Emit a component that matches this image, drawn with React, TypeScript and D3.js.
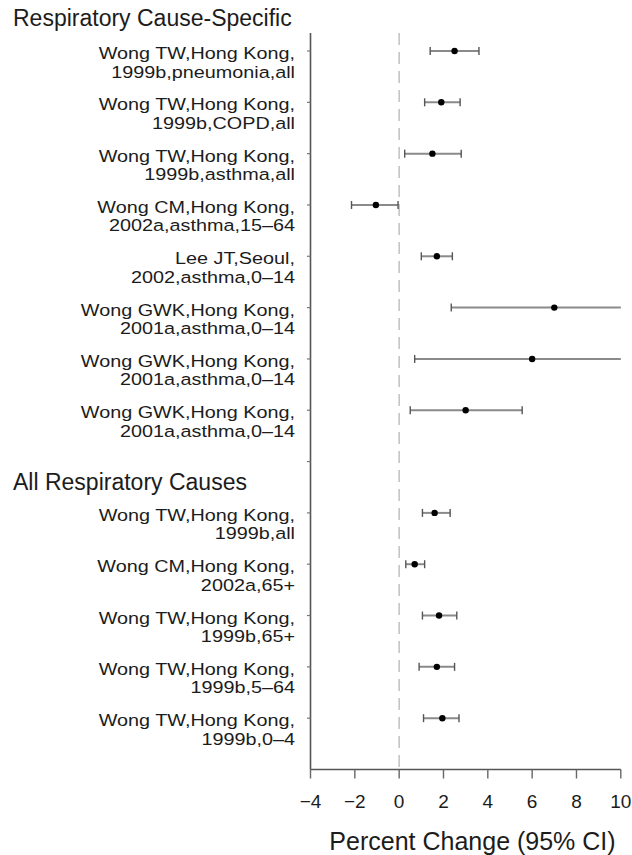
import React from "react";
import * as d3 from "d3";

// Study labels (two lines each), effect estimates and 95% CIs
const studyLine1 = [
  "Wong TW,Hong Kong,",
  "Wong TW,Hong Kong,",
  "Wong TW,Hong Kong,",
  "Wong CM,Hong Kong,",
  "Lee JT,Seoul,",
  "Wong GWK,Hong Kong,",
  "Wong GWK,Hong Kong,",
  "Wong GWK,Hong Kong,",
  "Wong TW,Hong Kong,",
  "Wong CM,Hong Kong,",
  "Wong TW,Hong Kong,",
  "Wong TW,Hong Kong,",
  "Wong TW,Hong Kong,",
];
const studyLine2 = [
  "1999b,pneumonia,all",
  "1999b,COPD,all",
  "1999b,asthma,all",
  "2002a,asthma,15–64",
  "2002,asthma,0–14",
  "2001a,asthma,0–14",
  "2001a,asthma,0–14",
  "2001a,asthma,0–14",
  "1999b,all",
  "2002a,65+",
  "1999b,65+",
  "1999b,5–64",
  "1999b,0–4",
];
// Row slot of each study (slot 8 is left empty between the two groups)
const rowSlot = [0, 1, 2, 3, 4, 5, 6, 7, 9, 10, 11, 12, 13];
const estimate = [2.5, 1.9, 1.5, -1.05, 1.7, 7.0, 6.0, 3.0, 1.6, 0.7, 1.8, 1.7, 1.95];
const ciLow = [1.4, 1.15, 0.25, -2.15, 1.0, 2.35, 0.7, 0.5, 1.05, 0.3, 1.05, 0.9, 1.1];
const ciHigh = [3.6, 2.75, 2.8, -0.05, 2.4, 10, 10, 5.55, 2.3, 1.15, 2.6, 2.5, 2.7];
// Intervals that run past the right edge of the axis (drawn without an end cap)
const ciOpenRight = [false, false, false, false, false, true, true, false, false, false, false, false, false];

const groupTitles = ["Respiratory Cause-Specific", "All Respiratory Causes"];
const xTicks = [-4, -2, 0, 2, 4, 6, 8, 10];
const xTitle = "Percent Change (95% CI)";

const W = 632;
const H = 855;
const FONT = "'Liberation Sans', Arial, Helvetica, sans-serif";
const INK = "#1c1c1c";

export default function App() {
  const x = d3.scaleLinear().domain([-4, 10]).range([310.5, 620.8]);
  const y = d3.scaleLinear().domain([0, 14]).range([51, 769.5]);

  const axisX = x(-4);
  const axisBottom = y(14);
  const axisTop = y(-0.35);
  const fmt = (v: number) => (v < 0 ? "−" + Math.abs(v) : String(v));
  const labelRight = 295;

  return (
    <svg
      width={W}
      height={H}
      viewBox={`0 0 ${W} ${H}`}
      style={{ position: "absolute", left: 0, top: 0, background: "#fff" }}
      fontFamily={FONT}
    >
      <rect x={0} y={0} width={W} height={H} fill="#fff" />

      {/* group headings */}
      <text x={13} y={26} fontSize={23} fill={INK}>
        {groupTitles[0]}
      </text>
      <text x={13} y={490} fontSize={23} fill={INK}>
        {groupTitles[1]}
      </text>

      {/* reference line at zero */}
      <line
        x1={x(0)}
        x2={x(0)}
        y1={axisTop}
        y2={axisBottom}
        stroke="#c4c4c4"
        strokeWidth={1.6}
        strokeDasharray="12,7"
      />

      {/* y axis with ticks at every row slot */}
      <line x1={axisX} x2={axisX} y1={axisTop} y2={axisBottom} stroke="#555" strokeWidth={1.6} />
      {d3.range(14).map((i) => (
        <line key={"yt" + i} x1={axisX - 3.5} x2={axisX} y1={y(i)} y2={y(i)} stroke="#777" strokeWidth={1.2} />
      ))}

      {/* x axis */}
      <line x1={x(-4)} x2={x(10)} y1={axisBottom} y2={axisBottom} stroke="#555" strokeWidth={1.6} />
      {xTicks.map((t) => (
        <g key={"xt" + t}>
          <line x1={x(t)} x2={x(t)} y1={axisBottom} y2={axisBottom + 9} stroke="#666" strokeWidth={1.4} />
          <text x={x(t)} y={808} fontSize={19} textAnchor="middle" fill={INK}>
            {fmt(t)}
          </text>
        </g>
      ))}
      <text x={(328 + 617) / 2} y={850} fontSize={25} textAnchor="middle" fill={INK}>
        {xTitle}
      </text>

      {/* study rows */}
      {estimate.map((est, i) => {
        const yc = y(rowSlot[i]);
        const x0 = x(ciLow[i]);
        const x1 = x(Math.min(ciHigh[i], 10));
        const capH = 4;
        return (
          <g key={"row" + i}>
            <text
              transform={`translate(${labelRight},${yc + 8}) scale(1.2,1)`}
              fontSize={16.5}
              textAnchor="end"
              fill={INK}
            >
              {studyLine1[i]}
            </text>
            <text
              transform={`translate(${labelRight},${yc + 26.5}) scale(1.2,1)`}
              fontSize={16.5}
              textAnchor="end"
              fill={INK}
            >
              {studyLine2[i]}
            </text>
            <line x1={x0} x2={x1} y1={yc} y2={yc} stroke="#8a8a8a" strokeWidth={2} />
            <line x1={x0} x2={x0} y1={yc - capH} y2={yc + capH} stroke="#555" strokeWidth={1.4} />
            {!ciOpenRight[i] && (
              <line x1={x1} x2={x1} y1={yc - capH} y2={yc + capH} stroke="#555" strokeWidth={1.4} />
            )}
            <circle cx={x(est)} cy={yc} r={3.2} fill="#000" />
          </g>
        );
      })}
    </svg>
  );
}
